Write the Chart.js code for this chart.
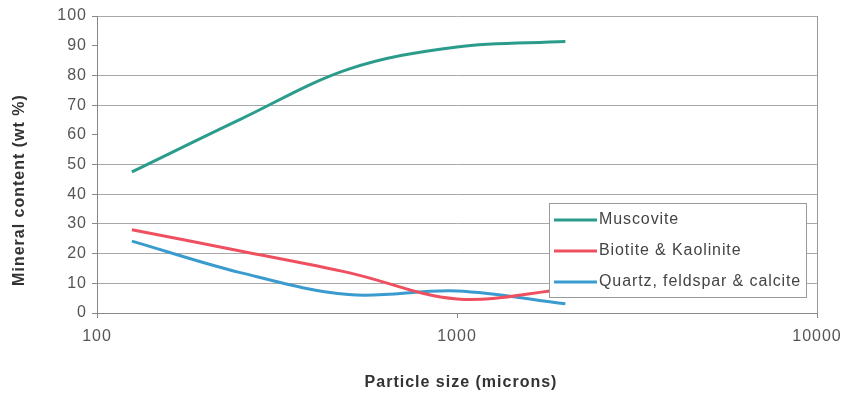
<!DOCTYPE html>
<html>
<head>
<meta charset="utf-8">
<script src="https://cdn.jsdelivr.net/npm/chart.js@4/dist/chart.umd.min.js"></script>
<style>
  html, body { margin: 0; padding: 0; background: #fff; }
  #c { display: block; }
</style>
</head>
<body>
<canvas id="c" width="851" height="395"></canvas>
<script>
// Particle size classes (microns) and mineral content (wt %) per class
const sizes = [125, 250, 500, 1000, 2000];
const muscovite = [47.5, 65.2, 82.1, 89.6, 91.4];
const biotiteKaolinite = [28.0, 20.9, 13.6, 4.7, 8.0];
const quartzFeldsparCalcite = [24.2, 13.6, 6.2, 7.4, 3.1];

const seriesNames = ['Muscovite', 'Biotite & Kaolinite', 'Quartz, feldspar & calcite'];
const seriesColors = ['#2b9c8c', '#ef5060', '#3a9bcf'];

const xTickValues = [100, 1000, 10000];
const yTitle = 'Mineral content (wt %)';
const xTitle = 'Particle size (microns)';

const FONT = '"Liberation Sans", Arial, sans-serif';

function points(values) {
  return sizes.map((s, i) => ({ x: s, y: values[i] }));
}

// Wide, slightly spaced lettering for all canvas text
const spacingPlugin = {
  id: 'spacing',
  beforeDraw(chart) { chart.ctx.letterSpacing = '1px'; }
};

// Axis titles placed beside the plot area
const axisTitles = {
  id: 'axisTitles',
  afterDraw(chart) {
    const ctx = chart.ctx;
    const a = chart.chartArea;
    ctx.save();
    ctx.letterSpacing = '1px';
    ctx.fillStyle = '#333';
    ctx.font = 'bold 16px ' + FONT;
    ctx.textAlign = 'center';
    ctx.textBaseline = 'middle';
    ctx.fillText(xTitle, (a.left + a.right) / 2 + 4, 383);
    ctx.translate(20, a.bottom - 123);
    ctx.rotate(-Math.PI / 2);
    ctx.fillText(yTitle, 0, 0);
    ctx.restore();
  }
};

// Boxed legend inside the lower right of the plot area
const boxLegend = {
  id: 'boxLegend',
  afterDraw(chart) {
    const ctx = chart.ctx;
    const a = chart.chartArea;
    const right = a.right - 10, bottom = a.bottom - 15;
    const w = 258, h = 95;
    const left = right - w, top = bottom - h;
    ctx.save();
    ctx.fillStyle = '#fff';
    ctx.fillRect(left, top, w, h);
    ctx.strokeStyle = '#9a9a9a';
    ctx.lineWidth = 1;
    ctx.strokeRect(left + 0.5, top + 0.5, w - 1, h - 1);
    ctx.letterSpacing = '0.9px';
    ctx.font = '16px ' + FONT;
    ctx.textBaseline = 'middle';
    ctx.textAlign = 'left';
    chart.data.datasets.forEach((ds, i) => {
      const y = top + 17 + i * 31;
      ctx.strokeStyle = ds.borderColor;
      ctx.lineWidth = 3;
      ctx.beginPath();
      ctx.moveTo(left + 5, y);
      ctx.lineTo(left + 48, y);
      ctx.stroke();
      ctx.fillStyle = '#444';
      ctx.fillText(ds.label, left + 50, y);
    });
    ctx.restore();
  }
};

const series = [muscovite, biotiteKaolinite, quartzFeldsparCalcite];

new Chart(document.getElementById('c'), {
  type: 'line',
  data: {
    datasets: series.map((vals, i) => ({
      label: seriesNames[i],
      data: points(vals),
      borderColor: seriesColors[i],
      backgroundColor: seriesColors[i],
      borderWidth: 3,
      pointRadius: 0,
      tension: 0.35,
      fill: false
    }))
  },
  options: {
    responsive: false,
    animation: false,
    devicePixelRatio: 1,
    layout: { padding: { top: 16, right: 34, left: 0, bottom: 0 } },
    plugins: {
      legend: { display: false },
      tooltip: { enabled: false }
    },
    scales: {
      x: {
        type: 'logarithmic',
        min: 100,
        max: 10000,
        afterBuildTicks(scale) {
          scale.ticks = xTickValues.map(v => ({ value: v }));
        },
        afterFit(scale) { scale.height = 82; },
        ticks: {
          autoSkip: false,
          maxRotation: 0,
          padding: 9,
          color: '#555',
          font: { family: FONT, size: 16 },
          callback: v => String(v)
        },
        grid: {
          drawOnChartArea: true,
          color: c => (c.tick && c.tick.value === 10000) ? '#9a9a9a' : 'rgba(0,0,0,0)',
          tickColor: '#888',
          tickLength: 5
        },
        border: { color: '#888', width: 1 }
      },
      y: {
        min: 0,
        max: 100,
        afterFit(scale) { scale.width = 97; },
        ticks: {
          stepSize: 10,
          padding: 5,
          color: '#555',
          font: { family: FONT, size: 16 }
        },
        grid: {
          color: c => (c.tick && (c.tick.value === 90 || c.tick.value === 60)) ? 'rgba(0,0,0,0)' : '#a8a8a8',
          tickColor: '#888',
          tickLength: 5
        },
        border: { color: '#888', width: 1 }
      }
    }
  },
  plugins: [spacingPlugin, axisTitles, boxLegend]
});
</script>
</body>
</html>
